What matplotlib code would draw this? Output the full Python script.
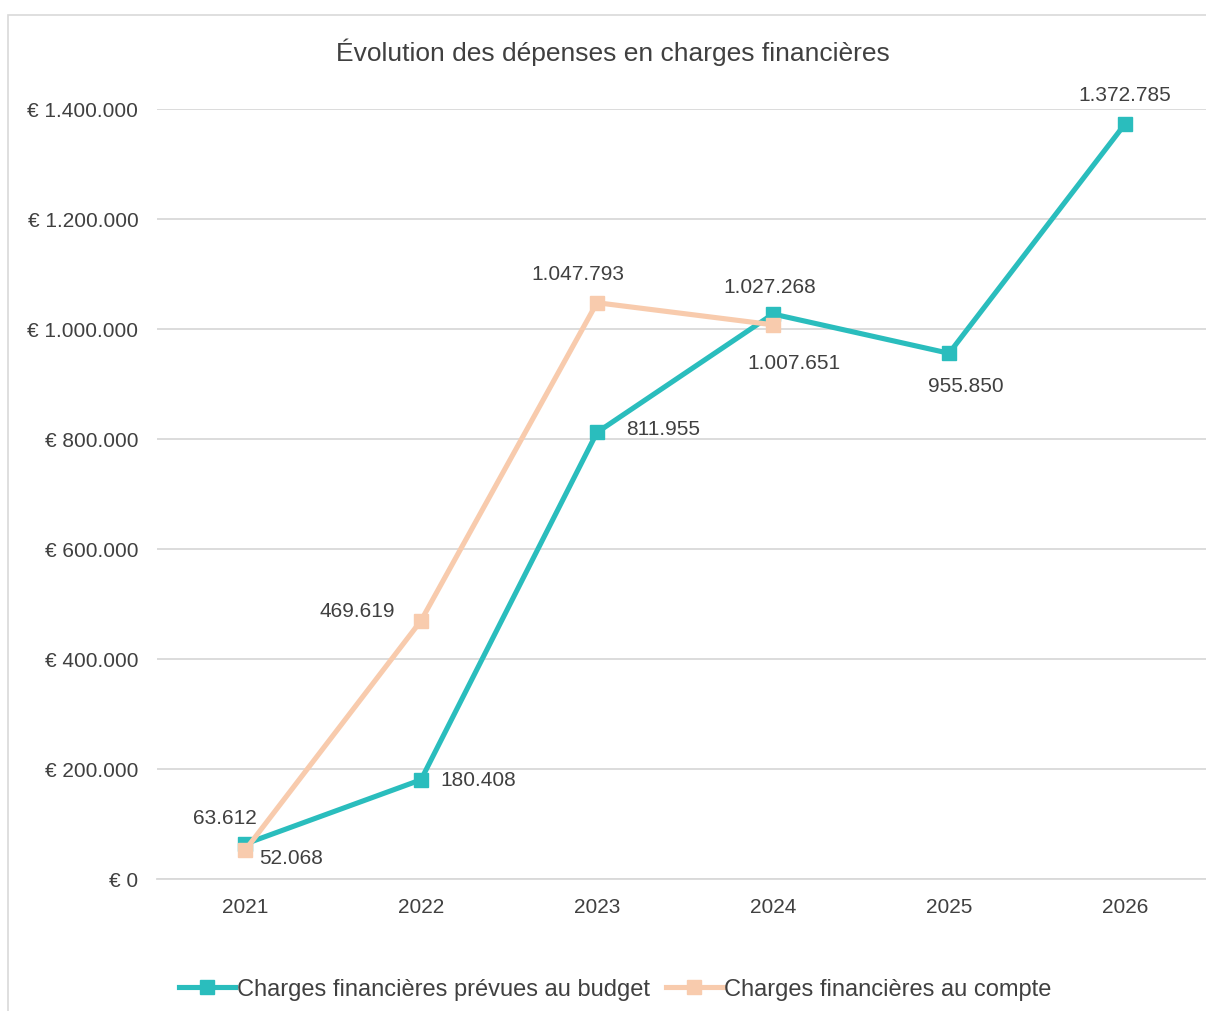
import matplotlib.pyplot as plt
from matplotlib.patches import Rectangle

plt.rcParams['font.family'] = ['Liberation Sans', 'DejaVu Sans']

years = ['2021', '2022', '2023', '2024', '2025', '2026']
budget = [63612, 180408, 811955, 1027268, 955850, 1372785]
compte = [52068, 469619, 1047793, 1007651]
yticks = [0, 200000, 400000, 600000, 800000, 1000000, 1200000, 1400000]

teal = '#2ABDBD'
peach = '#F8CBAD'
txt = '#404040'


def fmt(v):
    return '{:,}'.format(v).replace(',', '.')


fig = plt.figure(figsize=(12.06, 10.12), dpi=100)
fig.patches.append(Rectangle((8 / 1206, -0.1), 1.2, 1 - 16 / 1012 + 0.1,
                             transform=fig.transFigure, fill=False,
                             edgecolor='#D9D9D9', linewidth=1.2))
ax = fig.add_axes([157 / 1206, 132 / 1012, 1056 / 1206, 770 / 1012])

x = list(range(len(years)))
ax.plot(x, budget, color=teal, lw=3.7, marker='s', ms=10, zorder=3,
        label='Charges financières prévues au budget')
ax.plot(x[:len(compte)], compte, color=peach, lw=3.7, marker='s', ms=10,
        zorder=4, label='Charges financières au compte')

ax.set_xlim(-0.5, 5.5)
ax.set_ylim(0, 1400000)
ax.set_xticks(x)
ax.set_xticklabels(years)
ax.set_yticks(yticks)
ax.set_yticklabels(['€ ' + fmt(v) for v in yticks])
ax.tick_params(length=0, labelsize=15, colors=txt)
ax.tick_params(axis='x', pad=13)
ax.tick_params(axis='y', pad=13.5)
ax.grid(axis='y', color='#D9D9D9', lw=1.3)
ax.set_axisbelow(True)
for s in ['top', 'right', 'left']:
    ax.spines[s].set_visible(False)
ax.spines['bottom'].set_color('#D9D9D9')
ax.spines['bottom'].set_linewidth(1.3)

# data labels (offsets in points)
b_off = [(-14.5, 19, 'center'), (14, 0, 'left'), (21, 3, 'left'),
         (-2, 20, 'center'), (12, -23, 'center'), (0, 21, 'center')]
c_off = [(10, -5, 'left'), (-19, 7, 'right'), (-14, 21, 'center'),
         (15, -27.5, 'center')]
for i, v in enumerate(budget):
    dx, dy, ha = b_off[i]
    ax.annotate(fmt(v), (x[i], v), xytext=(dx, dy), textcoords='offset points',
                ha=ha, va='center', fontsize=15, color=txt)
for i, v in enumerate(compte):
    dx, dy, ha = c_off[i]
    ax.annotate(fmt(v), (x[i], v), xytext=(dx, dy), textcoords='offset points',
                ha=ha, va='center', fontsize=15, color=txt)

fig.text(613 / 1206, 1 - 52 / 1012, 'Évolution des dépenses en charges financières',
         ha='center', va='center', fontsize=19, color=txt)

fig.legend(loc='center', bbox_to_anchor=(615 / 1206, 1 - 990 / 1012), ncol=2,
           frameon=False, fontsize=17, labelcolor=txt, handlelength=2.4,
           handletextpad=0.05, columnspacing=0.7)

fig.savefig('out.png', dpi=100)
